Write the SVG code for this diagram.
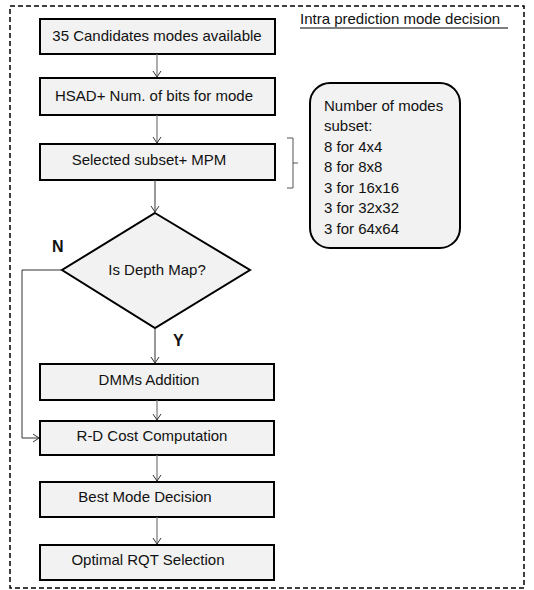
<svg xmlns="http://www.w3.org/2000/svg" width="534" height="590" viewBox="0 0 534 590">
<defs>
<marker id="arr" markerWidth="10" markerHeight="10" refX="8" refY="5" orient="auto" markerUnits="userSpaceOnUse">
<path d="M2,1 L8,5 L2,9" fill="none" stroke="#333" stroke-width="1"/>
</marker>
<style>
.box{fill:#f2f2f2;stroke:#000;stroke-width:2}
.t{font-family:"Liberation Sans",Arial,sans-serif;font-size:15px;fill:#111}
.c{text-anchor:middle}
.b{font-weight:bold;font-size:16px}
.con{fill:none;stroke:#777;stroke-width:1.2}
.conb{fill:none;stroke:#333;stroke-width:1}
</style>
</defs>
<rect x="10" y="6" width="514" height="582" fill="none" stroke="#000" stroke-width="1.5" stroke-dasharray="5,3"/>
<g id="title">
<text class="t" x="300" y="24">Intra prediction mode decision</text>
<line x1="300" y1="28" x2="508" y2="28" stroke="#000" stroke-width="1"/>
</g>
<g id="n1"><rect class="box" x="40" y="19" width="235" height="35"/><text class="t c" x="157" y="41">35 Candidates modes available</text></g>
<g id="n2"><rect class="box" x="40" y="78" width="235" height="37"/><text class="t c" x="154" y="101">HSAD+ Num. of bits for mode</text></g>
<g id="n3"><rect class="box" x="40" y="144" width="235" height="36"/><text class="t c" x="149" y="165">Selected subset+ MPM</text></g>
<g id="d1"><polygon class="box" points="155,213 250,270 155,328 62,270"/><text class="t c" x="157" y="275">Is Depth Map?</text></g>
<g id="n4"><rect class="box" x="40" y="364" width="234" height="36"/><text class="t c" x="149" y="385">DMMs Addition</text></g>
<g id="n5"><rect class="box" x="40" y="421" width="234" height="34"/><text class="t c" x="152" y="441">R-D Cost Computation</text></g>
<g id="n6"><rect class="box" x="40" y="482" width="234" height="35"/><text class="t c" x="145" y="502">Best Mode Decision</text></g>
<g id="n7"><rect class="box" x="40" y="545" width="234" height="35"/><text class="t c" x="148" y="565">Optimal RQT Selection</text></g>
<g id="note">
<rect class="box" x="310" y="83" width="150" height="165" rx="20" ry="20"/>
<text class="t" x="324" y="111">Number of modes</text>
<text class="t" x="324" y="131">subset:</text>
<text class="t" x="324" y="152">8 for 4x4</text>
<text class="t" x="324" y="172">8 for 8x8</text>
<text class="t" x="324" y="193">3 for 16x16</text>
<text class="t" x="324" y="213">3 for 32x32</text>
<text class="t" x="324" y="234">3 for 64x64</text>
</g>
<g id="labels">
<text class="t b" x="52" y="252">N</text>
<text class="t b" x="173" y="346">Y</text>
</g>
<g id="connectors">
<line class="con" x1="157" y1="54" x2="157" y2="77" marker-end="url(#arr)"/>
<line class="con" x1="157" y1="115" x2="157" y2="143" marker-end="url(#arr)"/>
<line class="conb" x1="155" y1="180" x2="155" y2="212" marker-end="url(#arr)"/>
<line class="conb" x1="155" y1="328" x2="155" y2="363" marker-end="url(#arr)"/>
<line class="con" x1="157" y1="400" x2="157" y2="420" marker-end="url(#arr)"/>
<line class="con" x1="157" y1="455" x2="157" y2="481" marker-end="url(#arr)"/>
<line class="con" x1="157" y1="517" x2="157" y2="544" marker-end="url(#arr)"/>
<polyline class="conb" points="62,270 22,270 22,438 39,438" marker-end="url(#arr)"/>
<polyline fill="none" stroke="#555" stroke-width="1" points="287,138 293,138 293,188 287,188"/>
<line x1="293" y1="163" x2="298" y2="163" stroke="#555" stroke-width="1"/>
</g>
</svg>
